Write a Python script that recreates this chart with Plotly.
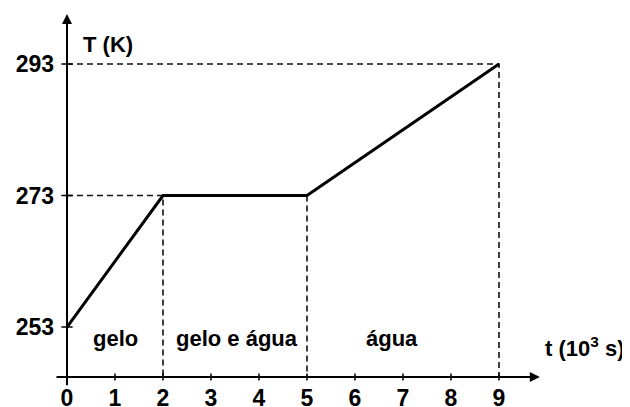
import plotly.graph_objects as go

# heating curve: time (10^3 s) vs temperature (K)
t_vals = [0, 2, 5, 9]
temp_vals = [253, 273, 273, 293]
x_ticks = [0, 1, 2, 3, 4, 5, 6, 7, 8, 9]
y_ticks = [253, 273, 293]
phase_labels = ["gelo", "gelo e água", "água"]
phase_x = [1.0, 3.54, 6.77]

font = dict(family="Liberation Sans, Arial, sans-serif", size=22, color="black", weight="bold")
axis_y = 245.4  # where the time axis crosses

fig = go.Figure()

# dashed guide lines
guide = dict(color="#111", width=1.6, dash="6px,4px")
fig.add_trace(go.Scatter(x=[0, t_vals[3], t_vals[3]], y=[temp_vals[3], temp_vals[3], axis_y],
                         mode="lines", line=guide, hoverinfo="skip"))
fig.add_trace(go.Scatter(x=[0, t_vals[1], t_vals[1]], y=[temp_vals[1], temp_vals[1], axis_y],
                         mode="lines", line=guide, hoverinfo="skip"))
fig.add_trace(go.Scatter(x=[t_vals[2], t_vals[2]], y=[temp_vals[2], axis_y],
                         mode="lines", line=guide, hoverinfo="skip"))

# main curve
fig.add_trace(go.Scatter(x=t_vals, y=temp_vals, mode="lines",
                         line=dict(color="black", width=3)))

# small tick marks on the drawn axes
fig.add_trace(go.Scatter(x=x_ticks[1:], y=[axis_y] * (len(x_ticks) - 1), mode="markers",
                         marker=dict(symbol="line-ns-open", size=5, color="black",
                                     line=dict(color="black", width=1.5)),
                         hoverinfo="skip"))
fig.add_trace(go.Scatter(x=[0] * len(y_ticks), y=y_ticks, mode="markers",
                         marker=dict(symbol="line-ew-open", size=8, color="black",
                                     line=dict(color="black", width=1.5)),
                         hoverinfo="skip"))

# axes with arrows
fig.add_annotation(x=9.85, y=axis_y, ax=-0.25, ay=axis_y, xref="x", yref="y", axref="x", ayref="y",
                   text="", showarrow=True, arrowhead=2, arrowsize=1, arrowwidth=2, arrowcolor="black")
fig.add_annotation(x=0, y=300.6, ax=0, ay=243.9, xref="x", yref="y", axref="x", ayref="y",
                   text="", showarrow=True, arrowhead=2, arrowsize=1, arrowwidth=2, arrowcolor="black")

# labels
fig.add_annotation(x=0.85, y=295.9, text="T (K)", showarrow=False, font=font)
for lab, px in zip(phase_labels, phase_x):
    fig.add_annotation(x=px, y=251.2, text=lab, showarrow=False, font=font)
fig.add_annotation(x=9.92, y=249.96, text="t (10<sup>3</sup> s)", showarrow=False,
                   xanchor="left", font=font)

# page body has an 8px margin, so the figure is sized to end at the window edge
fig.update_layout(
    width=622, height=399,
    margin=dict(l=47, r=0, t=0, b=20, autoexpand=False),
    plot_bgcolor="white", paper_bgcolor="white",
    showlegend=False,
    xaxis=dict(range=[-0.25, 11.729], tickvals=x_ticks, showgrid=False, zeroline=False,
               showline=False, ticks="", automargin=False, ticklabelstandoff=-5,
               tickfont=dict(font, size=23)),
    yaxis=dict(range=[243.875, 301.52], tickvals=y_ticks, showgrid=False, zeroline=False,
               showline=False, ticks="", automargin=False, tickfont=dict(font, size=23)),
)

fig.write_html("out.html")
